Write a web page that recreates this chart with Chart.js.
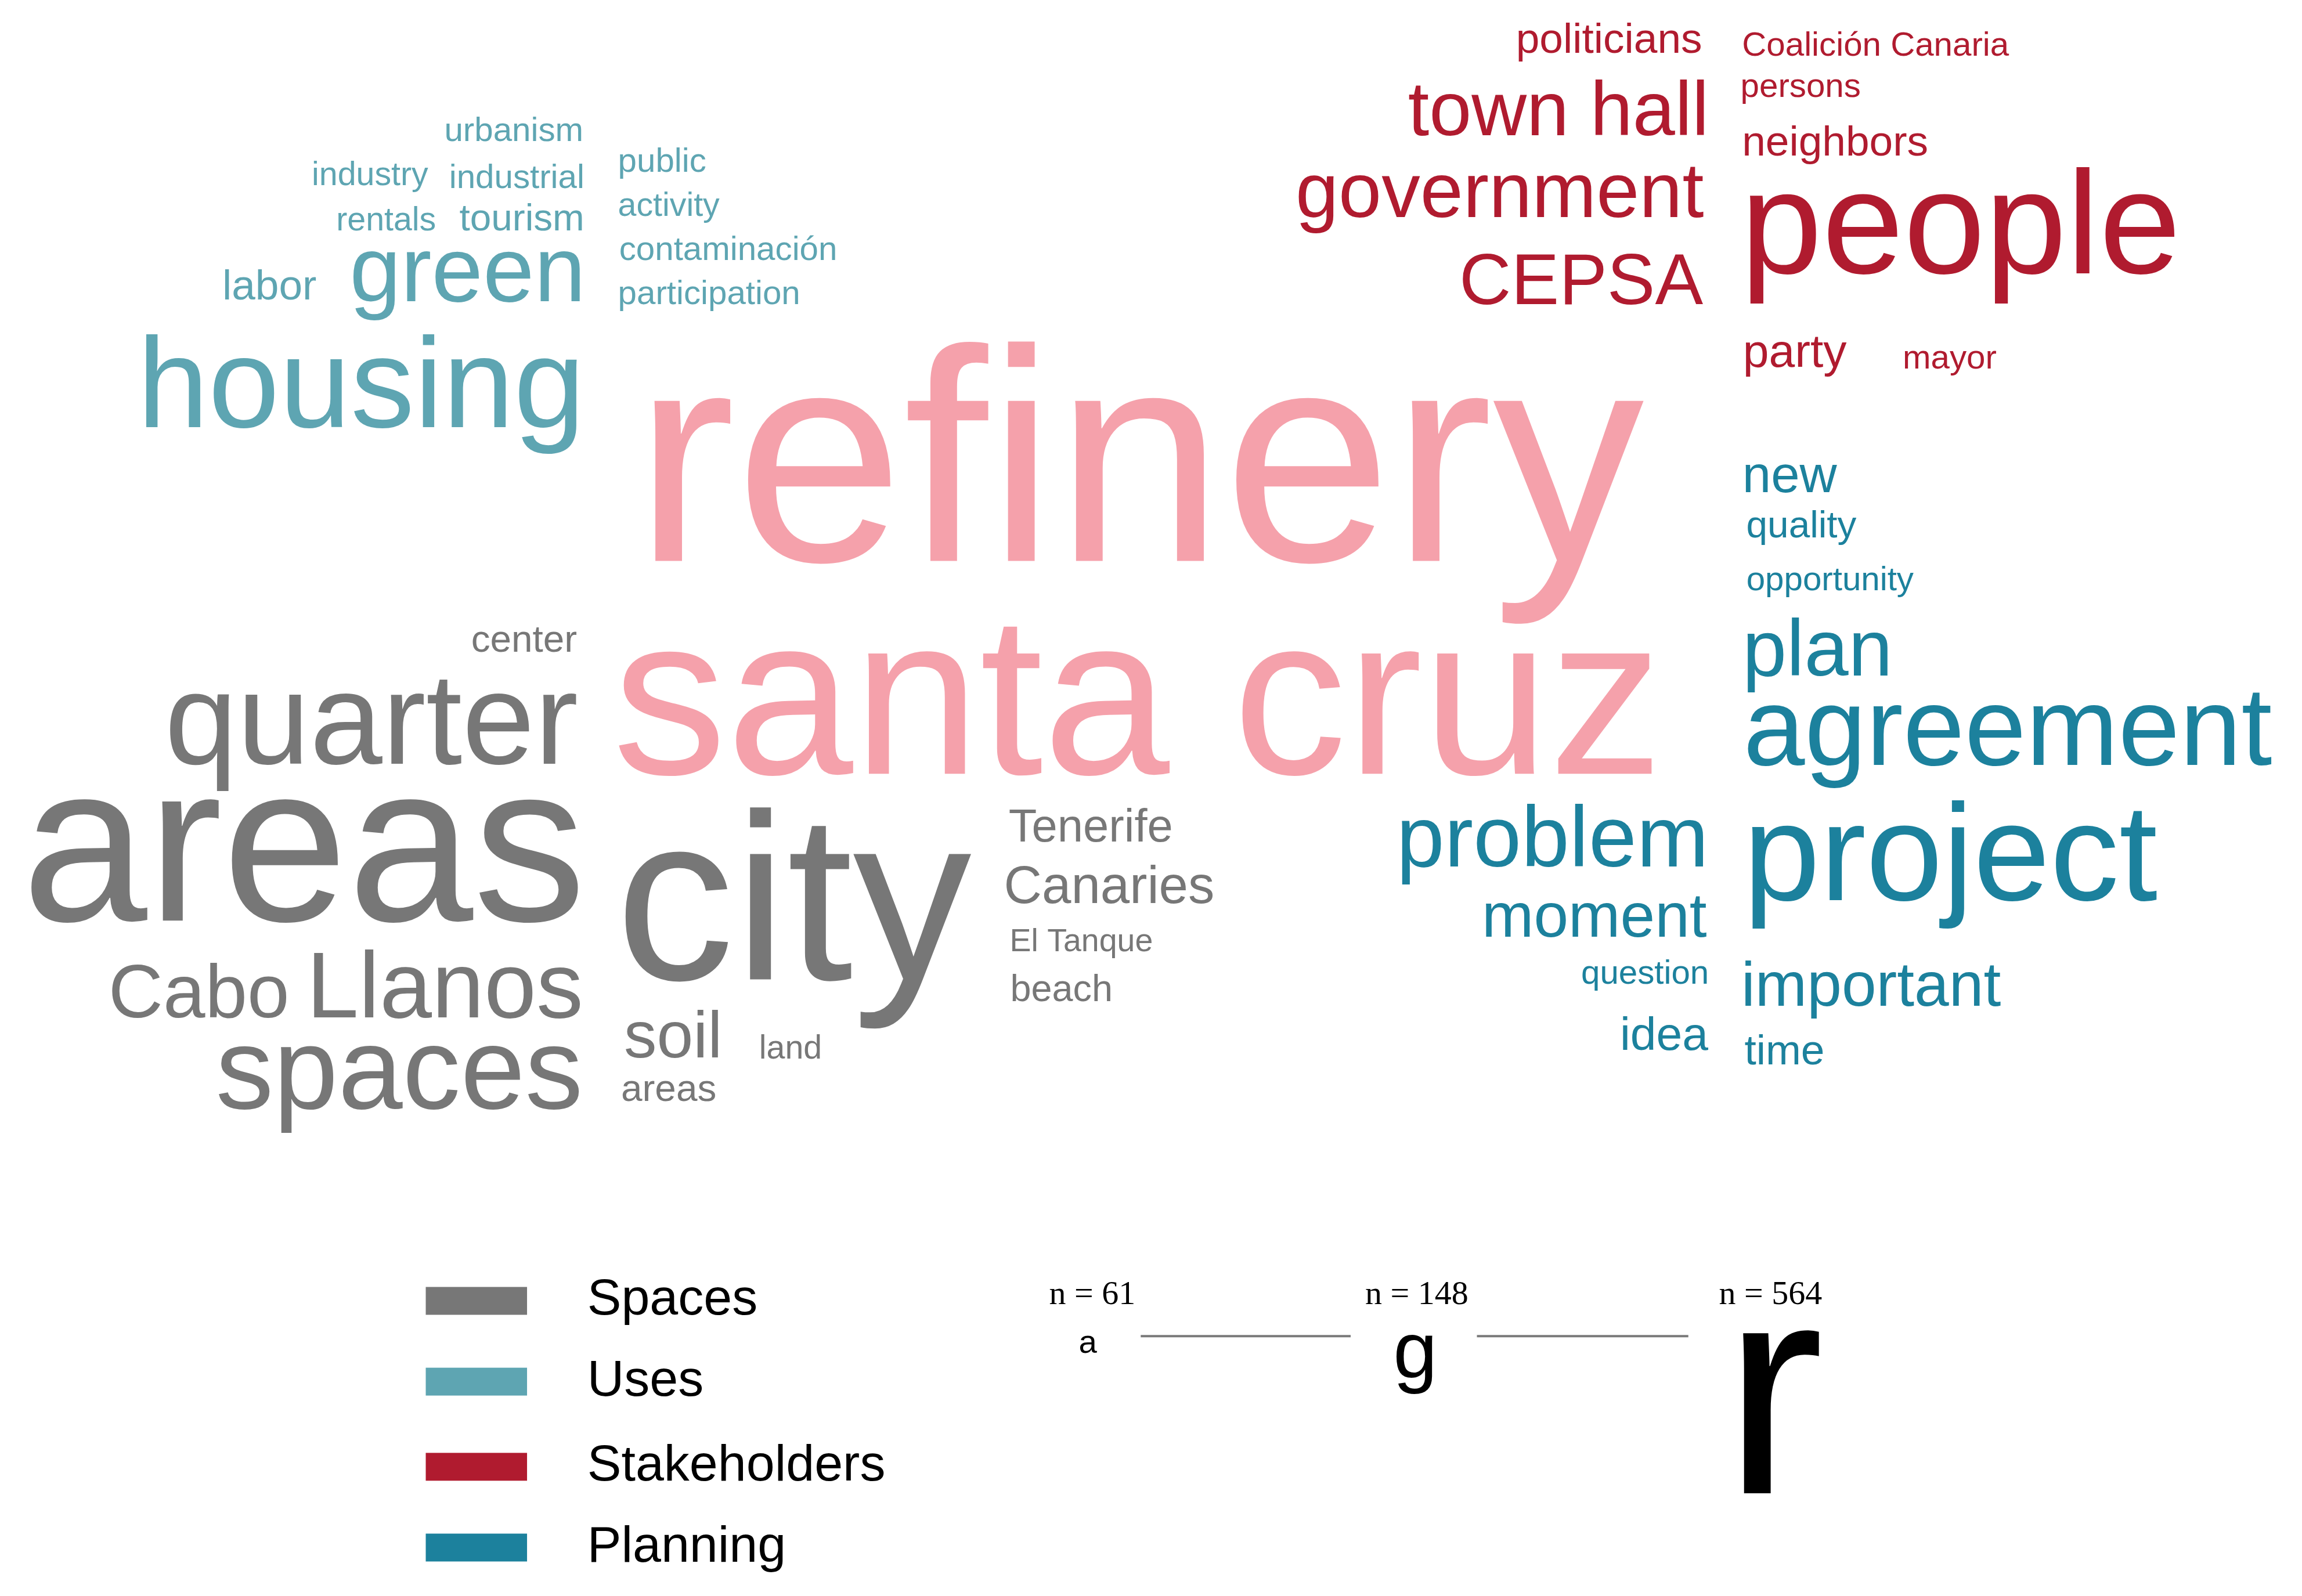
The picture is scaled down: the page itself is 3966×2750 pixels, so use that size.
<!DOCTYPE html>
<html>
<head>
<meta charset="utf-8">
<script src="https://cdn.jsdelivr.net/npm/chart.js@4.4.1/dist/chart.umd.min.js"></script>
<style>
  body { margin: 0; background: #ffffff; }
  #cloudChart { display: block; }
</style>
</head>
<body>
<canvas id="cloudChart" width="3966" height="2750"></canvas>
<script>
// word cloud data: word, mentions (n), layout position (x, y baseline in layout units)
var categories = ['Spaces', 'Uses', 'Stakeholders', 'Planning'];

var topWords = ['refinery', 'santa cruz'];
var topN     = [564, 424];
var topX     = [776, 775];
var topY     = [382, 527];

var spacesWords = ['center', 'quarter', 'areas', 'Cabo', 'Llanos', 'spaces', 'city', 'Tenerife', 'Canaries', 'El Tanque', 'beach', 'soil', 'land', 'areas'];
var spacesN     = [71, 243, 420, 141, 175, 216, 442, 86, 98, 60, 70, 122, 62, 71];
var spacesX     = [357, 253, 207, 135.5, 303, 272, 540.5, 743, 755.5, 736.5, 723, 458.5, 538.5, 455.5];
var spacesY     = [444, 520, 627, 693, 693, 755, 667, 573, 615, 648, 682, 720, 721, 750];

var usesWords = ['urbanism', 'industry', 'industrial', 'rentals', 'tourism', 'labor', 'green', 'housing', 'public', 'activity', 'contaminación', 'participation'];
var usesN     = [63, 62, 63, 62, 71, 79, 172, 238, 63, 62, 63, 63];
var usesX     = [350, 252, 352, 263, 355.5, 183.5, 318.5, 246, 451, 455.5, 496, 483];
var usesY     = [96, 126, 128, 157, 157, 204, 205, 291, 117, 147, 177, 207];

var stakeWords = ['politicians', 'town hall', 'government', 'CEPSA', 'Coalición Canaria', 'persons', 'neighbors', 'people', 'party', 'mayor'];
var stakeN     = [79, 142, 144, 134, 63, 63, 79, 273, 87, 63];
var stakeX     = [1096, 1061.5, 1021.5, 1077, 1277.5, 1226.5, 1250, 1335.5, 1222.5, 1328];
var stakeY     = [36, 92, 148, 207, 38, 66, 106, 186, 250, 251];

var planWords = ['new', 'quality', 'opportunity', 'plan', 'agreement', 'problem', 'moment', 'question', 'idea', 'project', 'important', 'time'];
var planN     = [96, 71, 63, 148, 206, 161, 116, 63, 87, 257, 116, 79];
var planX     = [1219, 1227, 1246.5, 1238, 1367.5, 1057.5, 1086, 1120.5, 1133.5, 1328.5, 1274.5, 1215.5];
var planY     = [335, 366, 402, 460, 521, 590, 638, 670, 715, 613, 685, 725];

// size key
var keyN       = [61, 148, 564];
var keyLetters = ['a', 'g', 'r'];

var colors = {
  top: '#f5a1ab',
  Spaces: '#777777',
  Uses: '#5ea5b2',
  Stakeholders: '#b01b2f',
  Planning: '#1c819d'
};

function toPoints(xs, ys) {
  return xs.map(function (x, i) { return { x: x, y: ys[i] }; });
}

var groups = [
  { label: 'top', words: topWords, n: topN, x: topX, y: topY },
  { label: 'Spaces', words: spacesWords, n: spacesN, x: spacesX, y: spacesY },
  { label: 'Uses', words: usesWords, n: usesN, x: usesX, y: usesY },
  { label: 'Stakeholders', words: stakeWords, n: stakeN, x: stakeX, y: stakeY },
  { label: 'Planning', words: planWords, n: planN, x: planX, y: planY }
];

var FONT = '"Liberation Sans", Arial, Helvetica, sans-serif';
var SERIF = '"Liberation Serif", "Times New Roman", serif';

// px of font per mention at full size
function fontPx(chart, n) {
  return n * 0.925 * chart.width / 3966;
}

var wordPlugin = {
  id: 'wordPlugin',
  afterDatasetsDraw: function (chart) {
    var ctx = chart.ctx;
    var sx = chart.scales.x, sy = chart.scales.y;
    ctx.save();
    ctx.textAlign = 'center';
    ctx.textBaseline = 'alphabetic';

    // words
    chart.data.datasets.forEach(function (ds, di) {
      var meta = chart.getDatasetMeta(di);
      var g = groups[di];
      ctx.fillStyle = colors[g.label];
      meta.data.forEach(function (pt, i) {
        ctx.font = fontPx(chart, g.n[i]) + 'px ' + FONT;
        ctx.fillText(g.words[i], pt.x, pt.y);
      });
    });

    // legend
    var u = chart.width / 3966;
    var legendY = [886, 941, 999, 1054];
    categories.forEach(function (c, i) {
      var x0 = sx.getPixelForValue(290), x1 = sx.getPixelForValue(359);
      var yc = sy.getPixelForValue(legendY[i]);
      ctx.fillStyle = colors[c];
      ctx.fillRect(x0, yc - 24 * u, x1 - x0, 48 * u);
      ctx.fillStyle = '#000000';
      ctx.textAlign = 'left';
      ctx.font = (88 * u) + 'px ' + FONT;
      ctx.fillText(c, sx.getPixelForValue(400), yc + 24 * u);
    });

    // size key
    var keyX = [741, 964, 1208];
    var labelX = [744, 965, 1206];
    var topLine = sy.getPixelForValue(910);
    ctx.textAlign = 'center';
    keyN.forEach(function (n, i) {
      ctx.fillStyle = '#000000';
      ctx.font = (58 * u) + 'px ' + SERIF;
      ctx.fillText('n = ' + n, sx.getPixelForValue(labelX[i]), sy.getPixelForValue(888));
      var fs = fontPx(chart, n);
      ctx.font = fs + 'px ' + FONT;
      ctx.fillText(keyLetters[i], sx.getPixelForValue(keyX[i]), topLine + fs * 0.519);
    });
    ctx.strokeStyle = '#7a7a7a';
    ctx.lineWidth = 4 * u;
    [[777, 920], [1006, 1150]].forEach(function (seg) {
      ctx.beginPath();
      ctx.moveTo(sx.getPixelForValue(seg[0]), topLine);
      ctx.lineTo(sx.getPixelForValue(seg[1]), topLine);
      ctx.stroke();
    });
    ctx.restore();
  }
};

var ctx = document.getElementById('cloudChart').getContext('2d');
var chart = new Chart(ctx, {
  type: 'scatter',
  data: {
    datasets: groups.map(function (g) {
      return {
        label: g.label,
        data: toPoints(g.x, g.y),
        pointRadius: 0,
        pointHoverRadius: 0
      };
    })
  },
  options: {
    responsive: false,
    devicePixelRatio: 1,
    animation: false,
    layout: { padding: 0 },
    plugins: {
      legend: { display: false },
      tooltip: { enabled: false }
    },
    scales: {
      x: { type: 'linear', min: 0, max: 1568, display: false },
      y: { type: 'linear', min: 0, max: 1087, reverse: true, display: false }
    }
  },
  plugins: [wordPlugin]
});
</script>
</body>
</html>
